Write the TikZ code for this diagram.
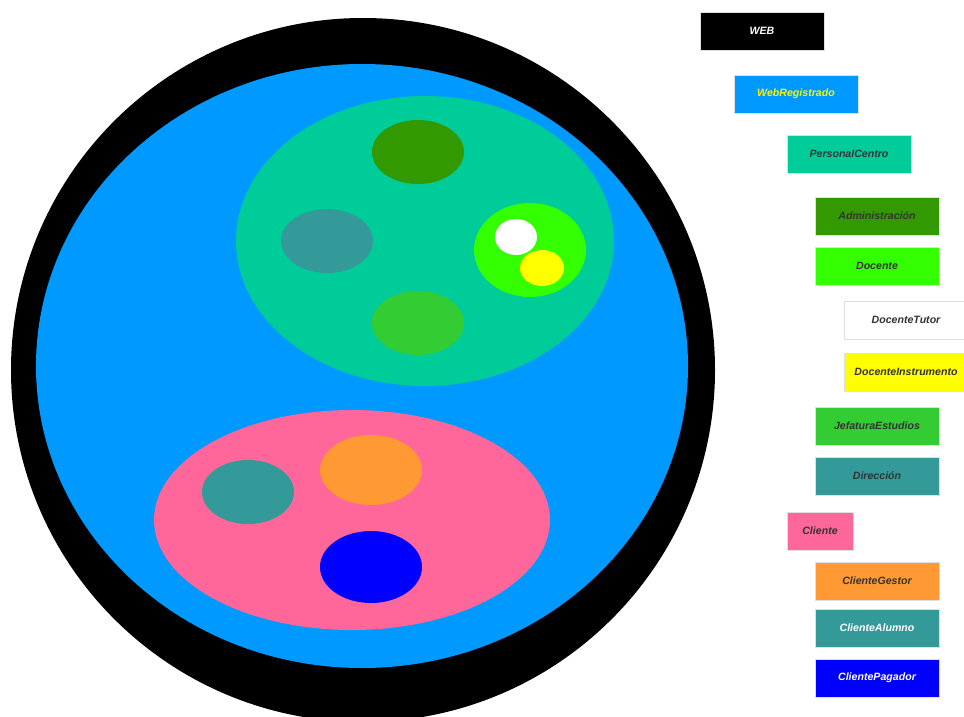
\documentclass[tikz,border=0pt]{standalone}
\usepackage{fontspec}
\setmainfont{Liberation Sans}
\usetikzlibrary{positioning}

\definecolor{webblack}{HTML}{000000}
\definecolor{webreg}{HTML}{0099FF}
\definecolor{personal}{HTML}{00CC99}
\definecolor{admin}{HTML}{339900}
\definecolor{docente}{HTML}{33FF00}
\definecolor{tutor}{HTML}{FFFFFF}
\definecolor{instrumento}{HTML}{FFFF00}
\definecolor{jefatura}{HTML}{33CC33}
\definecolor{direccion}{HTML}{339999}
\definecolor{cliente}{HTML}{FF6699}
\definecolor{gestor}{HTML}{FF9933}
\definecolor{alumno}{HTML}{339999}
\definecolor{pagador}{HTML}{0000FF}
\definecolor{labeltext}{HTML}{333333}

\tikzset{
  legend/.style={draw=gray!25,line width=0.6pt,minimum width=124,minimum height=38,
    inner sep=0pt,font=\fontsize{10.6}{12}\selectfont\bfseries\itshape,text=labeltext},
}

\begin{document}
\begin{tikzpicture}[x=1pt,y=-1pt]
  \useasboundingbox (0,0) rectangle (964,717);

  % sets
  \fill[webblack] (363,370) ellipse [x radius=352,y radius=352];
  \fill[webreg] (362,366) ellipse [x radius=326,y radius=302];

  \fill[personal] (425,241) ellipse [x radius=189,y radius=145];
  \fill[admin] (418,152) ellipse [x radius=46,y radius=32];
  \fill[direccion] (327,241) ellipse [x radius=46,y radius=32];
  \fill[docente] (530,250) ellipse [x radius=56,y radius=47];
  \fill[tutor] (516,237) ellipse [x radius=21,y radius=18];
  \fill[instrumento] (542,268) ellipse [x radius=22,y radius=18];
  \fill[jefatura] (418,323) ellipse [x radius=46,y radius=32];

  \fill[cliente] (352,520) ellipse [x radius=198,y radius=110];
  \fill[alumno] (248,492) ellipse [x radius=46,y radius=32];
  \fill[gestor] (371,470) ellipse [x radius=51,y radius=35];
  \fill[pagador] (371,567) ellipse [x radius=51,y radius=36];

  % legend
  \node[legend,fill=webblack,text=white] (web) at (762,31) {WEB};
  \node[legend,fill=webreg,text=yellow] (webreg) at (796,94) {WebRegistrado};
  \node[legend,fill=personal] (personal) at (849,154) {PersonalCentro};
  \node[legend,fill=admin] (admin) at (877,216) {Administración};
  \node[legend,fill=docente] (docente) at (877,266) {Docente};
  \node[legend,fill=tutor] (tutor) at (906,320) {DocenteTutor};
  \node[legend,fill=instrumento] (instrumento) at (906,372) {DocenteInstrumento};
  \node[legend,fill=jefatura] (jefatura) at (877,426) {JefaturaEstudios};
  \node[legend,fill=direccion] (direccion) at (877,476) {Dirección};
  \node[legend,fill=cliente,minimum width=66] (cliente) at (820,531) {Cliente};
  \node[legend,fill=gestor] (gestor) at (877,581) {ClienteGestor};
  \node[legend,fill=alumno,text=white] (alumno) at (877,628) {ClienteAlumno};
  \node[legend,fill=pagador,text=white] (pagador) at (877,678) {ClientePagador};
\end{tikzpicture}
\end{document}
